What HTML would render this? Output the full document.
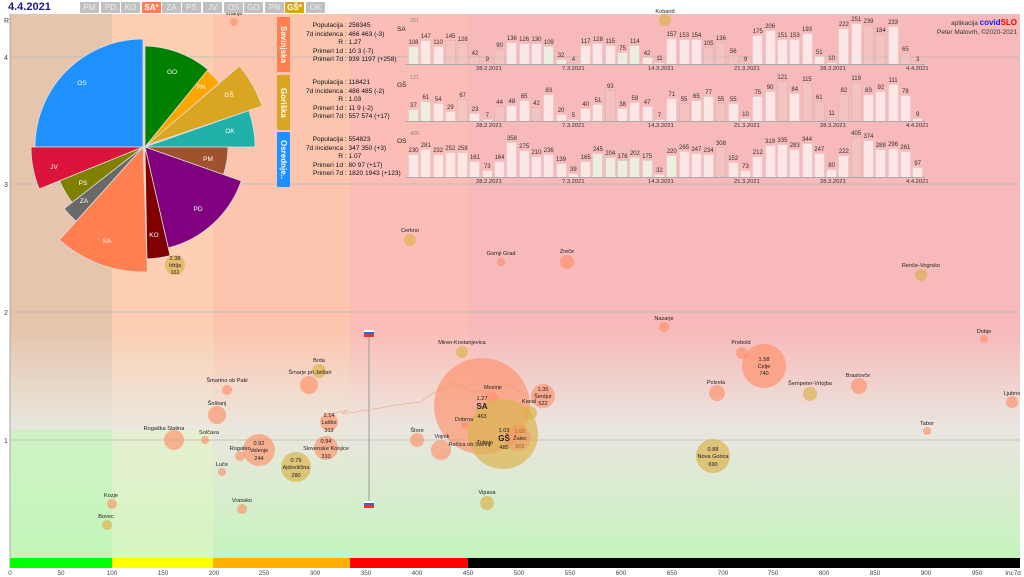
<!DOCTYPE html>
<html><head><meta charset="utf-8"><style>
*{margin:0;padding:0;box-sizing:border-box}
body{width:1024px;height:577px;overflow:hidden;background:#fff;font-family:"Liberation Sans",sans-serif;position:relative;color:#222}
svg{position:absolute;left:0;top:0}
.abs{position:absolute}
.btn{position:absolute;top:2px;height:11px;width:19px;background:#c0c0c0;color:#eee;font-size:8px;text-align:center;line-height:11px}
.info{position:absolute;left:292px;font-size:6.6px;line-height:8.6px;color:#111}
.info div{white-space:nowrap}
.info span{display:inline-block;width:51px;text-align:right}
.vl{position:absolute;left:277px;width:13px;height:55px;color:#fff;font-size:8px;font-weight:bold;writing-mode:vertical-rl;text-align:center;line-height:13px;border-radius:1px}
.bc{position:absolute;left:408px;width:520px;height:50px;display:flex;align-items:flex-end}
.bc span{flex:0 0 11px;margin-right:1.3px;position:relative;height:calc(var(--v)*var(--k));background:rgba(255,246,246,.72);border:1px solid rgba(220,170,170,.5);border-bottom:none}
.bc span.g{background:rgba(235,250,235,.8)}
.bc span.d{background:rgba(240,200,200,.6)}
.bc b{position:absolute;bottom:100%;left:-4px;right:-4px;text-align:center;font-weight:normal;font-size:6px;line-height:7px;color:#333}
.base{position:absolute;left:405px;width:520px;height:1px;background:#aaa}
.dt{position:absolute;font-size:5.8px;color:#333}
</style></head><body>
<svg width="1024" height="577" viewBox="0 0 1024 577" font-family="Liberation Sans, sans-serif">
<defs>
<linearGradient id="gv" x1="0" y1="0" x2="0" y2="1">
<stop offset="0" stop-color="#eaf6e4" stop-opacity="0"/>
<stop offset="0.58" stop-color="#eaf0e6" stop-opacity="0"/>
<stop offset="0.76" stop-color="#e8ece6" stop-opacity="0.85"/>
<stop offset="1" stop-color="#c4f4bc" stop-opacity="1"/>
</linearGradient>
</defs>
<rect x="10" y="14" width="102" height="544" fill="#e6c5ad"/>
<rect x="112" y="14" width="101" height="544" fill="#fccfb3"/>
<rect x="213" y="14" width="137" height="544" fill="#fdc5ae"/>
<rect x="350" y="14" width="118" height="544" fill="#fbbdb6"/>
<rect x="468" y="14" width="552" height="544" fill="#f7b9b9"/>
<rect x="10" y="14" width="1010" height="544" fill="url(#gv)"/>
<rect x="10" y="430" width="102" height="128" fill="#bff8b4" opacity=".6"/>
<rect x="112" y="430" width="101" height="128" fill="#e4f8c4" opacity=".5"/>
<g stroke="#b8b8b8" stroke-width="0.7">
<line x1="10" y1="57" x2="1020" y2="57"/><line x1="10" y1="184" x2="1020" y2="184"/>
<line x1="10" y1="312" x2="1020" y2="312"/><line x1="10" y1="440" x2="1020" y2="440"/>
</g>
<line x1="10" y1="14" x2="10" y2="568" stroke="#999" stroke-width="0.8"/>
<g font-size="7" fill="#444"><text x="4" y="23">R</text><text x="4" y="60">4</text><text x="4" y="187">3</text><text x="4" y="315">2</text><text x="4" y="443">1</text></g>
<!-- color bar -->
<rect x="10" y="558" width="102" height="10" fill="#00ff00"/>
<rect x="112" y="558" width="101" height="10" fill="#ffff00"/>
<rect x="213" y="558" width="137" height="10" fill="#ffb000"/>
<rect x="350" y="558" width="118" height="10" fill="#ff0000"/>
<rect x="468" y="558" width="552" height="10" fill="#000"/>
<g font-size="6.3" fill="#444" text-anchor="middle">
<text x="10" y="575">0</text><text x="61" y="575">50</text><text x="112" y="575">100</text><text x="163" y="575">150</text><text x="214" y="575">200</text><text x="264" y="575">250</text><text x="315" y="575">300</text><text x="366" y="575">350</text><text x="417" y="575">400</text><text x="468" y="575">450</text><text x="519" y="575">500</text><text x="570" y="575">550</text><text x="621" y="575">600</text><text x="672" y="575">650</text><text x="723" y="575">700</text><text x="773" y="575">750</text><text x="824" y="575">800</text><text x="875" y="575">850</text><text x="926" y="575">900</text><text x="977" y="575">950</text><text x="1013" y="575">Inc7d</text>
</g>
<!-- pie -->
<g stroke="#ddd" stroke-width="0.8">
<path d="M143,147 L35,147 A108,108 0 0 1 143,39 Z" fill="#1e90ff"/>
<path d="M145,147 L145,46 A101,101 0 0 1 208,69.6 Z" fill="#008000"/>
<path d="M145,147 L207.3,70.4 A100,100 0 0 1 219.6,82.7 Z" fill="#ffa500"/>
<path d="M147,145 L239.5,66 A126,126 0 0 1 262.1,106 Z" fill="#daa520"/>
<path d="M145,147 L248.9,110.5 A112,112 0 0 1 255,147 Z" fill="#20b2aa"/>
<path d="M145,147 L228,147 A85,85 0 0 1 223.4,174.7 Z" fill="#a0522d"/>
<path d="M145,147 L241.3,180.9 A104,104 0 0 1 168.2,247.9 Z" fill="#800080"/>
<path d="M145,147 L170.1,255.7 A112,112 0 0 1 146.9,258.9 Z" fill="#800000"/>
<path d="M143,147 L147.4,271.9 A125,125 0 0 1 59.4,239.9 Z" fill="#ff7f50"/>
<path d="M143,147 L76.1,221.3 A100,100 0 0 1 64.2,208.6 Z" fill="#696969"/>
<path d="M143,147 L72.1,202.4 A90,90 0 0 1 59.6,180.7 Z" fill="#808000"/>
<path d="M143,147 L39.2,189 A112,112 0 0 1 31,147 Z" fill="#dc143c"/>
</g>
<g font-size="6.5" fill="#fff" text-anchor="middle">
<text x="82" y="85">OS</text><text x="172" y="74">GO</text><text x="201" y="89">PN</text><text x="229" y="97">GŠ</text><text x="230" y="133">OK</text><text x="208" y="161">PM</text><text x="198" y="211">PD</text><text x="154" y="237">KO</text><text x="107" y="243">SA</text><text x="84" y="203">ZA</text><text x="83" y="185">PS</text><text x="54" y="169">JV</text>
</g>
<!-- vertical line -->
<line x1="369" y1="336" x2="369" y2="504" stroke="#999" stroke-width="1"/>
<rect x="364" y="330" width="10" height="7" fill="#fff"/><rect x="364" y="332" width="10" height="2" fill="#36c"/><rect x="364" y="334" width="10" height="3" fill="#e33"/>
<rect x="364" y="501" width="10" height="7" fill="#fff"/><rect x="364" y="503" width="10" height="2" fill="#36c"/><rect x="364" y="505" width="10" height="3" fill="#e33"/>
<polyline points="330,414 348,410 342,414 380,408 395,405 420,402 430,395 440,390 455,382 470,392 490,390 505,382 520,392" fill="none" stroke="#f0a080" stroke-width="0.6"/>
<!-- bubbles -->
<g fill="#ff8c64" fill-opacity=".62">
<circle cx="234" cy="22" r="4"/><circle cx="501" cy="262" r="4"/><circle cx="567" cy="262" r="7"/><circle cx="664" cy="327" r="5"/><circle cx="984" cy="339" r="4"/><circle cx="742" cy="353" r="6"/><circle cx="764" cy="366" r="22"/><circle cx="309" cy="385" r="9"/><circle cx="227" cy="390" r="5"/><circle cx="717" cy="393" r="8"/><circle cx="859" cy="386" r="8"/><circle cx="1012" cy="402" r="6"/>
<circle cx="482" cy="406" r="48"/><circle cx="492" cy="398" r="6"/><circle cx="543" cy="396" r="12"/><circle cx="217" cy="415" r="9"/><circle cx="465" cy="425" r="4"/><circle cx="329" cy="422" r="9"/><circle cx="417" cy="440" r="7"/><circle cx="441" cy="450" r="10"/><circle cx="174" cy="440" r="10"/><circle cx="205" cy="440" r="4"/><circle cx="259" cy="450" r="16"/><circle cx="240" cy="456" r="5"/><circle cx="326" cy="448" r="12"/><circle cx="927" cy="431" r="4"/><circle cx="222" cy="472" r="4"/><circle cx="112" cy="504" r="5"/><circle cx="242" cy="509" r="5"/>
</g>
<g fill="#dcb450" fill-opacity=".7">
<circle cx="665" cy="20" r="6"/><circle cx="175" cy="265" r="10"/><circle cx="410" cy="240" r="6"/><circle cx="921" cy="275" r="6"/><circle cx="462" cy="352" r="6"/><circle cx="319" cy="371" r="7"/><circle cx="810" cy="394" r="7"/><circle cx="530" cy="413" r="7"/><circle cx="503" cy="434" r="35"/><circle cx="713" cy="456" r="17"/><circle cx="296" cy="467" r="15"/><circle cx="487" cy="503" r="7"/><circle cx="107" cy="525" r="5"/>
</g>
<circle cx="518" cy="438" r="13" fill="#ff8c64" fill-opacity=".45"/>
<g font-size="5.6" fill="#222" text-anchor="middle">
<text x="234" y="15">Vitanje</text><text x="665" y="13">Kobarid</text><text x="410" y="232">Cerkno</text><text x="501" y="255">Gornji Grad</text><text x="567" y="253">Zreče</text><text x="921" y="267">Renče-Vogrsko</text><text x="664" y="320">Nazarje</text><text x="984" y="333">Dobje</text><text x="462" y="344">Miren-Kostanjevica</text><text x="741" y="344">Prebold</text><text x="319" y="362">Brda</text><text x="310" y="374">Šmarje pri Jelšah</text><text x="227" y="382">Šmartno ob Paki</text><text x="716" y="384">Polzela</text><text x="810" y="385">Šempeter-Vrtojba</text><text x="858" y="377">Braslovče</text><text x="1012" y="395">Ljubno</text><text x="493" y="389">Mozirje</text><text x="529" y="403">Kanal</text><text x="217" y="405">Šoštanj</text><text x="464" y="421">Dobrna</text><text x="417" y="432">Štore</text><text x="442" y="438">Vojnik</text><text x="164" y="430">Rogaška Slatina</text><text x="209" y="434">Solčava</text><text x="240" y="450">Rogatec</text><text x="927" y="425">Tabor</text><text x="222" y="466">Luče</text><text x="111" y="497">Kozje</text><text x="242" y="502">Vransko</text><text x="487" y="494">Vipava</text><text x="106" y="518">Bovec</text><text x="485" y="444">Tolmin</text><text x="470" y="446">Rečica ob Savinji</text>
<text x="175" y="260">2.38</text><text x="175" y="267">Idrija</text><text x="175" y="274">161</text>
<text x="764" y="361">1.58</text><text x="764" y="368">Celje</text><text x="764" y="375">740</text>
<text x="482" y="400">1.27</text><text x="482" y="418">463</text><text x="543" y="391">1.35</text><text x="543" y="398">Šentjur</text><text x="543" y="405">522</text>
<text x="329" y="417">1.14</text><text x="329" y="424">Laško</text><text x="329" y="432">313</text>
<text x="504" y="432">1.03</text><text x="504" y="449">485</text><text x="520" y="433" fill="#8a6a20">1.02</text><text x="520" y="440">Žalec</text><text x="520" y="448" fill="#8a6a20">501</text>
<text x="259" y="445">0.92</text><text x="259" y="452">Velenje</text><text x="259" y="460">244</text>
<text x="326" y="443">0.94</text><text x="326" y="450">Slovenske Konjice</text><text x="326" y="458">310</text>
<text x="713" y="451">0.88</text><text x="713" y="458">Nova Gorica</text><text x="713" y="466">690</text>
<text x="296" y="462">0.79</text><text x="296" y="469">Ajdovščina</text><text x="296" y="477">280</text>
</g>
<g font-size="8" font-weight="bold" fill="#222" text-anchor="middle"><text x="482" y="409">SA</text><text x="504" y="441">GŠ</text></g>
</svg>

<div class="abs" style="left:8px;top:1px;font-size:11px;font-weight:bold;color:#1a1a8a">4.4.2021</div>
<div class="btn" style="left:80px">PM</div><div class="btn" style="left:101px">PD</div><div class="btn" style="left:121px">KO</div><div class="btn" style="left:142px;background:#ff7f50;color:#fff;font-weight:bold">SA*</div><div class="btn" style="left:162px">ZA</div><div class="btn" style="left:182px">PS</div><div class="btn" style="left:203px">JV</div><div class="btn" style="left:224px">OS</div><div class="btn" style="left:244px">GO</div><div class="btn" style="left:265px">PN</div><div class="btn" style="left:285px;background:#daa520;color:#fff;font-weight:bold">GŠ*</div><div class="btn" style="left:306px">OK</div>

<div class="vl" style="top:17px;background:#ff7f50">Savinjska</div>
<div class="vl" style="top:75px;background:#daa520">Goriška</div>
<div class="vl" style="top:132px;background:#1e90ff">Osrednje..</div>
<div class="info" style="top:22px"><div><span>Populacija</span> : 258345</div><div><span>7d incidenca</span> : 466 463 (-3)</div><div><span>R</span> : 1.27</div><div><span>Primeri 1d</span> : 10 3 (-7)</div><div><span>Primeri 7d</span> : 939 1197 (+258)</div></div>
<div class="info" style="top:79px"><div><span>Populacija</span> : 118421</div><div><span>7d incidenca</span> : 486 485 (-2)</div><div><span>R</span> : 1.03</div><div><span>Primeri 1d</span> : 11 9 (-2)</div><div><span>Primeri 7d</span> : 557 574 (+17)</div></div>
<div class="info" style="top:136px"><div><span>Populacija</span> : 554823</div><div><span>7d incidenca</span> : 347 350 (+3)</div><div><span>R</span> : 1.07</div><div><span>Primeri 1d</span> : 80 97 (+17)</div><div><span>Primeri 7d</span> : 1820 1943 (+123)</div></div>

<div class="abs" style="left:397px;top:26px;font-size:6.5px">SA</div><div class="abs" style="left:410px;top:18px;font-size:5.5px;color:#888">251</div>
<div class="abs" style="left:397px;top:82px;font-size:6.5px">GŠ</div><div class="abs" style="left:410px;top:75px;font-size:5.5px;color:#888">121</div>
<div class="abs" style="left:397px;top:138px;font-size:6.5px">OS</div><div class="abs" style="left:410px;top:131px;font-size:5.5px;color:#888">405</div>

<div class="bc" style="top:14px;--k:0.163px"><span class="g" style="--v:108"><b>108</b></span><span style="--v:147"><b>147</b></span><span style="--v:110"><b>110</b></span><span class="d" style="--v:145"><b>145</b></span><span class="d" style="--v:128"><b>128</b></span><span class="d" style="--v:42"><b>42</b></span><span style="--v:9"><b>9</b></span><span class="d" style="--v:90"><b>90</b></span><span style="--v:136"><b>136</b></span><span style="--v:126"><b>126</b></span><span style="--v:130"><b>130</b></span><span class="g" style="--v:109"><b>109</b></span><span class="g" style="--v:32"><b>32</b></span><span style="--v:4"><b>4</b></span><span style="--v:117"><b>117</b></span><span style="--v:128"><b>128</b></span><span style="--v:115"><b>115</b></span><span class="g" style="--v:75"><b>75</b></span><span class="g" style="--v:114"><b>114</b></span><span style="--v:42"><b>42</b></span><span style="--v:11"><b>11</b></span><span style="--v:157"><b>157</b></span><span style="--v:153"><b>153</b></span><span style="--v:154"><b>154</b></span><span class="d" style="--v:105"><b>105</b></span><span class="d" style="--v:136"><b>136</b></span><span class="d" style="--v:56"><b>56</b></span><span style="--v:9"><b>9</b></span><span style="--v:175"><b>175</b></span><span style="--v:206"><b>206</b></span><span style="--v:151"><b>151</b></span><span style="--v:153"><b>153</b></span><span style="--v:193"><b>193</b></span><span style="--v:51"><b>51</b></span><span style="--v:10"><b>10</b></span><span style="--v:222"><b>222</b></span><span style="--v:251"><b>251</b></span><span class="d" style="--v:239"><b>239</b></span><span class="d" style="--v:184"><b>184</b></span><span style="--v:233"><b>233</b></span><span class="d" style="--v:65"><b>65</b></span><span style="--v:3"><b>3</b></span></div>
<div class="base" style="top:64px"></div>
<div class="dt" style="left:476px;top:66px">28.2.2021</div><div class="dt" style="left:562px;top:66px">7.3.2021</div><div class="dt" style="left:648px;top:66px">14.3.2021</div><div class="dt" style="left:734px;top:66px">21.3.2021</div><div class="dt" style="left:820px;top:66px">28.3.2021</div><div class="dt" style="left:906px;top:66px">4.4.2021</div>

<div class="bc" style="top:71px;--k:0.33px"><span class="g" style="--v:37"><b>37</b></span><span class="g" style="--v:61"><b>61</b></span><span style="--v:54"><b>54</b></span><span style="--v:29"><b>29</b></span><span class="d" style="--v:67"><b>67</b></span><span style="--v:23"><b>23</b></span><span style="--v:7"><b>7</b></span><span class="d" style="--v:44"><b>44</b></span><span style="--v:48"><b>48</b></span><span style="--v:65"><b>65</b></span><span class="d" style="--v:42"><b>42</b></span><span style="--v:83"><b>83</b></span><span style="--v:20"><b>20</b></span><span style="--v:5"><b>5</b></span><span style="--v:40"><b>40</b></span><span style="--v:51"><b>51</b></span><span class="d" style="--v:93"><b>93</b></span><span style="--v:38"><b>38</b></span><span style="--v:58"><b>58</b></span><span style="--v:47"><b>47</b></span><span style="--v:7"><b>7</b></span><span style="--v:71"><b>71</b></span><span class="d" style="--v:55"><b>55</b></span><span style="--v:65"><b>65</b></span><span style="--v:77"><b>77</b></span><span class="d" style="--v:55"><b>55</b></span><span style="--v:55"><b>55</b></span><span style="--v:10"><b>10</b></span><span style="--v:75"><b>75</b></span><span style="--v:90"><b>90</b></span><span class="d" style="--v:121"><b>121</b></span><span style="--v:84"><b>84</b></span><span class="d" style="--v:115"><b>115</b></span><span class="d" style="--v:61"><b>61</b></span><span class="d" style="--v:11"><b>11</b></span><span class="d" style="--v:82"><b>82</b></span><span class="d" style="--v:119"><b>119</b></span><span style="--v:83"><b>83</b></span><span style="--v:92"><b>92</b></span><span style="--v:111"><b>111</b></span><span style="--v:78"><b>78</b></span><span style="--v:9"><b>9</b></span></div>
<div class="base" style="top:121px"></div>
<div class="dt" style="left:476px;top:123px">28.2.2021</div><div class="dt" style="left:562px;top:123px">7.3.2021</div><div class="dt" style="left:648px;top:123px">14.3.2021</div><div class="dt" style="left:734px;top:123px">21.3.2021</div><div class="dt" style="left:820px;top:123px">28.3.2021</div><div class="dt" style="left:906px;top:123px">4.4.2021</div>

<div class="bc" style="top:127px;--k:0.0988px"><span style="--v:230"><b>230</b></span><span style="--v:281"><b>281</b></span><span style="--v:232"><b>232</b></span><span style="--v:252"><b>252</b></span><span style="--v:258"><b>258</b></span><span style="--v:161"><b>161</b></span><span style="--v:73"><b>73</b></span><span style="--v:164"><b>164</b></span><span style="--v:358"><b>358</b></span><span style="--v:275"><b>275</b></span><span style="--v:210"><b>210</b></span><span style="--v:236"><b>236</b></span><span style="--v:139"><b>139</b></span><span style="--v:39"><b>39</b></span><span style="--v:165"><b>165</b></span><span class="g" style="--v:245"><b>245</b></span><span class="g" style="--v:204"><b>204</b></span><span class="g" style="--v:176"><b>176</b></span><span class="g" style="--v:202"><b>202</b></span><span class="g" style="--v:175"><b>175</b></span><span style="--v:32"><b>32</b></span><span class="g" style="--v:220"><b>220</b></span><span style="--v:265"><b>265</b></span><span style="--v:247"><b>247</b></span><span style="--v:234"><b>234</b></span><span class="d" style="--v:308"><b>308</b></span><span style="--v:152"><b>152</b></span><span style="--v:73"><b>73</b></span><span style="--v:212"><b>212</b></span><span style="--v:319"><b>319</b></span><span style="--v:335"><b>335</b></span><span style="--v:283"><b>283</b></span><span style="--v:344"><b>344</b></span><span style="--v:247"><b>247</b></span><span style="--v:80"><b>80</b></span><span style="--v:222"><b>222</b></span><span class="d" style="--v:405"><b>405</b></span><span style="--v:374"><b>374</b></span><span style="--v:288"><b>288</b></span><span style="--v:296"><b>296</b></span><span style="--v:261"><b>261</b></span><span style="--v:97"><b>97</b></span></div>
<div class="base" style="top:177px"></div>
<div class="dt" style="left:476px;top:179px">28.2.2021</div><div class="dt" style="left:562px;top:179px">7.3.2021</div><div class="dt" style="left:648px;top:179px">14.3.2021</div><div class="dt" style="left:734px;top:179px">21.3.2021</div><div class="dt" style="left:820px;top:179px">28.3.2021</div><div class="dt" style="left:906px;top:179px">4.4.2021</div>

<div class="abs" style="right:7px;top:18px;font-size:6.5px;color:#333;text-align:right">aplikacija <b style="color:#1a1aff;font-size:8px">covid</b><b style="color:#e00;font-size:8px">SLO</b></div>
<div class="abs" style="right:7px;top:29px;font-size:6.5px;color:#333">Peter Malovrh, ©2020-2021</div>
</body></html>
